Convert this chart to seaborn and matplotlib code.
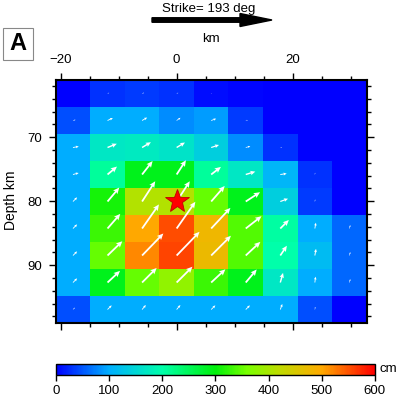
import numpy as np
import pandas as pd
import matplotlib
matplotlib.use('Agg')
import matplotlib.pyplot as plt
from matplotlib.colors import LinearSegmentedColormap
from matplotlib.patches import FancyArrow, Rectangle
import seaborn as sns

# slip per subfault (cm), rows = depth from top, cols = along strike
slip = [
    [0, 30, 35, 30, 8, 3, 0, 0, 0],
    [45, 100, 100, 80, 90, 35, 0, 0, 0],
    [100, 170, 175, 165, 140, 80, 30, 0, 0],
    [100, 210, 290, 290, 210, 170, 110, 30, 0],
    [100, 310, 410, 410, 350, 290, 140, 35, 0],
    [100, 330, 500, 555, 480, 340, 205, 100, 60],
    [100, 350, 520, 560, 475, 340, 200, 115, 60],
    [100, 290, 350, 380, 330, 290, 170, 100, 60],
    [45, 100, 100, 100, 100, 100, 100, 45, 0],
]
# rake direction of the slip arrows (deg, on the page)
rake = [
    [20, 20, 20, 20, 20, 10, 0, 0, 0],
    [15, 25, 30, 35, 20, 10, 0, 0, 0],
    [10, 22, 31, 31, 18, 15, 0, 0, 0],
    [15, 40, 52, 57, 38, 17, 8, 80, 0],
    [45, 50, 57, 57, 49, 33, 20, 80, 80],
    [45, 49, 55, 55, 47, 38, 45, 80, 75],
    [45, 44, 46, 46, 45, 43, 56, 80, 75],
    [45, 43, 45, 45, 43, 50, 74, 83, 75],
    [45, 45, 50, 50, 45, 45, 70, 80, 80],
]
hypo_x = 0.0
hypo_depth = 80.0
strike = 193

# fault grid geometry (km)
x0, dx = -20.85, 5.96
y0, dy = 61.05, 4.22
nx, ny = 9, 9

def kx(v):
    return (np.asarray(v) - x0) / dx

def ky(v):
    return (np.asarray(v) - y0) / dy

sns.set_style('ticks')
plt.rcParams['font.family'] = ['Liberation Sans', 'DejaVu Sans']
plt.rcParams['text.color'] = 'black'
plt.rcParams['axes.labelcolor'] = 'black'

cmap = LinearSegmentedColormap.from_list('slip', [
    (0.0, (0, 0, 1)),
    (1 / 6, (0, 175 / 255, 1)),
    (2 / 6, (0, 1, 170 / 255)),
    (3 / 6, (0, 240 / 255, 10 / 255)),
    (0.6, (120 / 255, 1, 0)),
    (0.7, (190 / 255, 220 / 255, 0)),
    (5 / 6, (1, 170 / 255, 0)),
    (1.0, (1, 0, 0)),
])

fig = plt.figure(figsize=(3.99, 3.98), dpi=100)
ax = fig.add_axes([0.1396, 0.1884, 0.7794, 0.6106])
cax = fig.add_axes([0.1396, 0.0578, 0.800, 0.0276])

df = pd.DataFrame(slip)
sns.heatmap(df, ax=ax, cmap=cmap, vmin=0, vmax=600, cbar=True, cbar_ax=cax,
            cbar_kws={'orientation': 'horizontal'},
            xticklabels=False, yticklabels=False)

# slip vectors
s = np.array(slip, dtype=float)
cx, cy = np.meshgrid(np.arange(nx) + 0.5, np.arange(ny) + 0.5)
U = np.ma.masked_where(s < 5, s)
ax.quiver(cx, cy, U, np.zeros_like(s), angles=np.array(rake, dtype=float),
          scale=17, scale_units='dots', units='dots', width=1.8,
          headwidth=3.2, headlength=3.5, headaxislength=3.0, minshaft=2,
          minlength=0.3, color='white', pivot='tail', zorder=3)

# hypocenter
ax.plot(kx(hypo_x), ky(hypo_depth), marker='*', ms=18, color='red',
        mec='#c00000', mew=0.6, zorder=4)

# frame and ticks
for sp in ax.spines.values():
    sp.set_visible(True)
    sp.set_linewidth(1.5)
    sp.set_color('black')

ax.set_xlim(0, nx)
ax.set_ylim(ny, 0)
ax.set_xticks(kx([-20, 0, 20]))
ax.set_xticklabels(['\u221220', '0', '20'])
ax.set_xticks(kx(np.arange(-20, 31, 5)), minor=True)
ax.set_yticks(ky([70, 80, 90]))
ax.set_yticklabels(['70', '80', '90'])
ax.set_yticks(ky(np.arange(62, 99, 2)), minor=True)
ax.tick_params(which='both', direction='out', top=True, bottom=True,
               left=True, right=True, labeltop=True, labelbottom=False,
               labelleft=True, labelright=False, labelsize=9.5,
               width=1, color='black', labelcolor='black')
ax.tick_params(which='major', length=5, pad=5)
ax.tick_params(which='minor', length=3)
ax.tick_params(axis='y', rotation=0)

ax.set_xlabel('km', fontsize=9.5, color='black')
ax.xaxis.set_label_position('top')
ax.xaxis.set_label_coords(0.4994, 1.156)
ax.set_ylabel('Depth km', fontsize=10, color='black')
ax.yaxis.set_label_coords(-0.122, 0.506)

# colorbar
cb = ax.collections[0].colorbar
cb.outline.set_linewidth(1)
cb.outline.set_edgecolor('black')
cb.set_ticks([0, 100, 200, 300, 400, 500, 600])
cax.tick_params(length=4, width=1, labelsize=9.5, direction='out', pad=3,
                color='black', labelcolor='black')
fig.text(388 / 399, 1 - 369 / 398, 'cm', fontsize=9.5, ha='center', va='center',
         color='black')

# strike arrow
fig.text(209 / 399, 1 - 9 / 398, 'Strike= %d deg' % strike, fontsize=9.5,
         ha='center', va='center', color='black')
fig.patches.append(FancyArrow(152 / 399, 1 - 20 / 398, 120 / 399, 0,
                              width=4.5 / 398, head_width=13 / 398,
                              head_length=32 / 399, length_includes_head=True,
                              color='black', transform=fig.transFigure,
                              figure=fig))

# panel label
fig.patches.append(Rectangle((3 / 399, 1 - 60 / 398), 30 / 399, 32 / 398,
                             facecolor='white', edgecolor='#888888', lw=0.8,
                             transform=fig.transFigure, figure=fig))
fig.text(18 / 399, 1 - 44 / 398, 'A', fontsize=17, fontweight='bold',
         ha='center', va='center', color='black')

fig.savefig('out.png', dpi=100)
plt.close()
